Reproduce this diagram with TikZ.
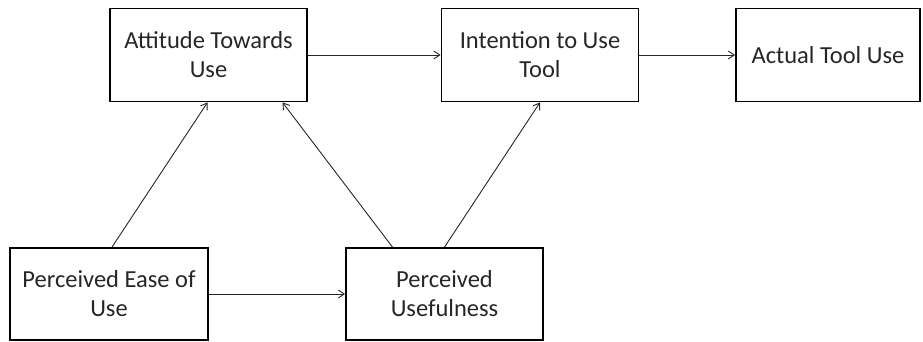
\documentclass[tikz,border=0pt]{standalone}
\usepackage{fontspec}
\setmainfont{Carlito}
\usetikzlibrary{arrows.meta}
\begin{document}
\begin{tikzpicture}[x=1pt,y=1pt,
  box/.style={draw=black, line width=1.8pt, minimum width=197pt, minimum height=93pt,
    align=center, inner sep=0pt, text=black!85,
    font=\fontsize{24.5}{29}\selectfont},
  link/.style={draw=black!85, line width=0.9pt, -{Straight Barb[length=6pt,width=8pt]}}]
\useasboundingbox (0,0) rectangle (923,-342);
\node[box] (att) at (208.5,-55) {Attitude Towards\\Use};
\node[box] (int) at (540,-55) {Intention to Use\\Tool};
\node[box, minimum width=184pt] (act) at (828,-55) {Actual Tool Use};
\node[box, minimum width=198pt, minimum height=92pt] (ease) at (109,-294) {Perceived Ease of\\Use};
\node[box, minimum height=92pt] (use) at (444.5,-294) {Perceived\\Usefulness};
\draw[link] (att.east) -- (int.west);
\draw[link] (int.east) -- (act.west);
\draw[link] (ease.east) -- (use.west);
\draw[link] ([xshift=3pt]ease.north) -- ([xshift=-1pt]att.south);
\draw[link] ([xshift=-52pt]use.north) -- ([xshift=74pt]att.south);
\draw[link] (use.north) -- (int.south);
\end{tikzpicture}
\end{document}
